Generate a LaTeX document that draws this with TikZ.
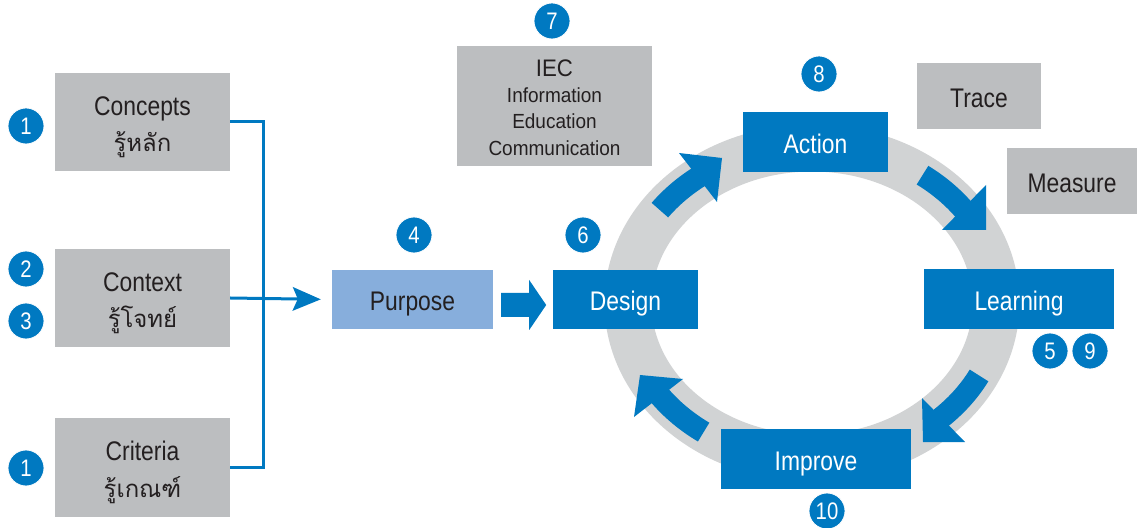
\documentclass[tikz,border=0pt]{standalone}
\usepackage{fontspec}
\setmainfont{Liberation Sans}[FakeStretch=0.85]
\newfontfamily\iecfont{Liberation Sans}[FakeStretch=0.93]
\newfontfamily\thaifont[Script=Thai]{Loma}
\usetikzlibrary{arrows.meta,calc}
\definecolor{cblue}{HTML}{0079C1}
\definecolor{cgray}{HTML}{BCBEC0}
\definecolor{cring}{HTML}{D1D3D4}
\definecolor{clight}{HTML}{87AEDC}
\definecolor{ctext}{HTML}{231F20}
\tikzset{
  box/.style={inner sep=0pt, align=center, font=\fontsize{27}{37}\selectfont},
  one/.style={text height=23bp, text depth=0bp},
  graybox/.style={box, fill=cgray, text=ctext},
  bluebox/.style={box, one, fill=cblue, text=white},
  num/.style={circle, fill=cblue, draw=white, line width=0.8bp, minimum size=36bp,
    inner sep=0pt, text=white, text height=17bp, text depth=0bp, font=\fontsize{24}{24}\selectfont},
  link/.style={draw=cblue, line width=3bp},
  cyc/.style={draw=cblue, line width=22bp},
}
\newcommand{\thtxt}[1]{\raisebox{0pt}[\height][0pt]{\thaifont\fontsize{24}{37}\selectfont #1}}
\newcommand{\topstrut}{\rule{0pt}{23bp}}
\begin{document}
\begin{tikzpicture}[x=1bp,y=-1bp]
\useasboundingbox (0,0) rectangle (1137,528);
% ring
\coordinate (ringc) at (812,303);
\draw[cring, line width=47bp] (ringc) ellipse [x radius=184, y radius=155];
% cycle arrows
\draw[cyc] (ringc) ++(216:188 and 158) arc[start angle=216, end angle=233.5, x radius=188, y radius=158];
\fill[cblue] (679,153) -- (722,158) -- (717,202) -- cycle;
\draw[cyc] (ringc) ++(306:188 and 158) arc[start angle=306, end angle=324.3, x radius=188, y radius=158];
\fill[cblue] (986,185) -- (986,230) -- (942,230) -- cycle;
\draw[cyc] (ringc) ++(27.3:188 and 158) arc[start angle=27.3, end angle=47.6, x radius=188, y radius=158];
\fill[cblue] (965,442) -- (923,442) -- (922,398) -- cycle;
\draw[cyc] (ringc) ++(125.2:188 and 158) arc[start angle=125.2, end angle=144.7, x radius=188, y radius=158];
\fill[cblue] (634,417) -- (640,375) -- (683,379) -- cycle;

% left boxes
\node[graybox, minimum width=175bp, minimum height=98bp] (concepts) at (142.5,122) {\topstrut Concepts\\\thtxt{รู้หลัก}};
\node[graybox, minimum width=175bp, minimum height=98bp] (context) at (142.5,298) {\topstrut Context\\\thtxt{รู้โจทย์}};
\node[graybox, minimum width=175bp, minimum height=99bp] (criteria) at (142.5,467.5) {\topstrut Criteria\\\thtxt{รู้เกณฑ์}};
\node[num] (n1a) at (26,126) {1};
\node[num] (n2) at (26,269) {2};
\node[num] (n3) at (26,321) {3};
\node[num] (n1b) at (26,468) {1};

% middle
\node[box, one, fill=clight, text=ctext, minimum width=161bp, minimum height=59bp] (purpose) at (412.5,299.5) {Purpose};
\node[bluebox, minimum width=145bp, minimum height=59bp] (design) at (625.5,299.5) {Design};
\node[num] (n4) at (414,235) {4};
\node[num] (n6) at (583,235) {6};

% bus connector
\coordinate (bus) at (263,0);
\draw[link] (concepts.east) -- (concepts.east -| bus) -- (criteria.east -| bus) -- (criteria.east);
\draw[link, shorten >=11bp, -{Stealth[length=28bp,width=23.5bp,inset=5bp]}] (context.east) -- (purpose.west);

% block arrow purpose -> design
\path (purpose.east) ++(8,5.5) coordinate (ba);
\fill[cblue] (ba) ++(0,-12) -- ++(28,0) -- ++(0,-13) -- ++(17,25) -- ++(-17,25) -- ++(0,-13) -- ++(-28,0) -- cycle;

% IEC
\node[graybox, minimum width=195bp, minimum height=120bp, font=\iecfont\fontsize{20.5}{26.5}\selectfont] (iec) at (554.5,106)
  {\rule{0pt}{19.5bp}{\fontsize{24}{26.5}\selectfont IEC}\\Information\\Education\\Communication};
\node[num] (n7) at (552,21) {7};

% cycle boxes
\node[bluebox, minimum width=145bp, minimum height=60bp] (action) at (815.5,142) {Action};
\node[num] (n8) at (819,74) {8};
\node[graybox, one, minimum width=124bp, minimum height=66bp] (trace) at (979,96) {Trace};
\node[graybox, one, minimum width=130bp, minimum height=66bp] (measure) at (1072,181) {Measure};
\node[bluebox, minimum width=190bp, minimum height=60bp] (learning) at (1019,299) {Learning};
\node[num] (n5) at (1050,351) {5};
\node[num] (n9) at (1090,351) {9};
\node[bluebox, minimum width=190bp, minimum height=60bp] (improve) at (816,459) {Improve};
\node[num] (n10) at (827,511) {10};
\end{tikzpicture}
\end{document}
